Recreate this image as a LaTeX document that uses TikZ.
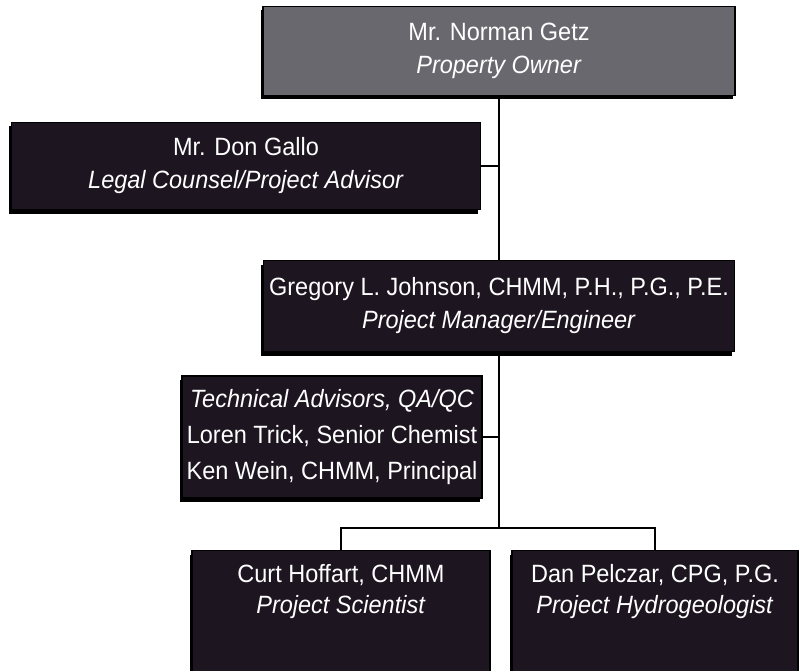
\documentclass[tikz,border=0pt]{standalone}
\usepackage{fontspec}
\setmainfont[FakeStretch=0.94]{Liberation Sans}
\usepackage{xcolor}
\usepackage{tikz}
\usetikzlibrary{positioning,shadows,calc}
\definecolor{ChartDark}{HTML}{1D1520}
\definecolor{ChartGray}{HTML}{68686E}

\begin{document}
\begin{tikzpicture}[
    x=1pt, y=-1pt,
    box/.style={draw=black, line width=1.2pt, fill=ChartDark, text=white,
      align=center, inner sep=0pt,
      font=\fontsize{25}{33}\selectfont,
      drop shadow={shadow xshift=-2.5pt, shadow yshift=-4pt, opacity=1, fill=black}},
    txt/.style={text=white, align=center, font=\fontsize{25}{31}\selectfont},
    conn/.style={draw=black, line width=1.6pt}
  ]
    \useasboundingbox (0,0) rectangle (800,671);
    \node[box, fill=ChartGray, minimum width=472pt, minimum height=89pt] (owner) at (499,51)
      {Mr. Norman Getz\\\textit{Property Owner}};
    \node[box, minimum width=469pt, minimum height=87pt] (counsel) at (246,166)
      {Mr. Don Gallo\\\textit{Legal Counsel/Project Advisor}};
    \node[box, minimum width=471pt, minimum height=91pt] (manager) at (499,306)
      {Gregory L. Johnson, CHMM, P.H., P.G., P.E.\\\textit{Project Manager/Engineer}};
    \node[box, minimum width=300pt, minimum height=122pt, font=\fontsize{25}{36}\selectfont] (advisors) at (332,437)
      {\textit{Technical Advisors, QA/QC}\\Loren Trick, Senior Chemist\\Ken Wein, CHMM, Principal};
    \node[box, anchor=north, minimum width=298pt, minimum height=121pt] (scientist) at (341,550) {};
    \node[box, anchor=north, minimum width=286pt, minimum height=121pt] (hydro) at (655,550) {};
    \node[txt] (scientisttxt) at ([yshift=-42pt]scientist.north)
      {Curt Hoffart, CHMM\\\textit{Project Scientist}};
    \node[txt] (hydrotxt) at ([yshift=-42pt]hydro.north)
      {Dan Pelczar, CPG, P.G.\\\textit{Project Hydrogeologist}};
    \coordinate (split) at (499,528);
    \draw[conn] (owner) -- (manager);
    \draw[conn] (counsel.east) -- (counsel.east -| owner.south);
    \draw[conn] (manager) -- (split);
    \draw[conn] (advisors.east) -- (advisors.east -| manager.south);
    \draw[conn] (scientist.north) |- (split) -| (hydro.north);
  \end{tikzpicture}
\end{document}
